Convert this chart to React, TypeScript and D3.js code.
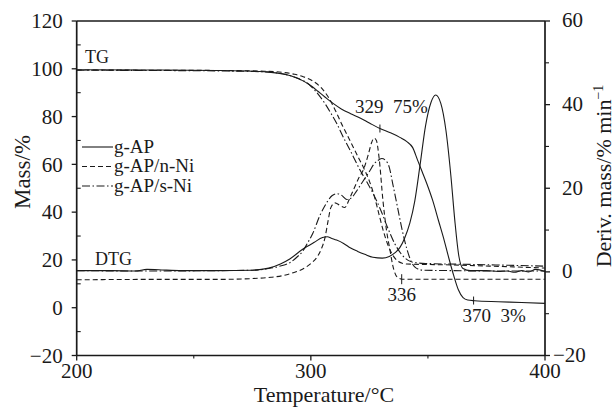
import React from 'react';
import * as d3 from 'd3';

// TG curves (mass %, left axis)
const tgApT = [200, 230, 260, 275, 283, 288, 292, 295, 298, 300.5, 303, 306, 309.5, 313, 317, 321, 325, 329.5, 334, 338, 341, 343.5, 345.5, 347.5, 349.5, 352, 354.5, 357, 359, 361, 363, 365, 367, 370, 380, 390, 400];
const tgApV = [99.6, 99.5, 99.3, 99, 98.5, 97.8, 96.9, 95.7, 94.2, 92.6, 90.6, 88.2, 85.5, 83.2, 81.2, 79.4, 77.3, 75, 73.2, 71.3, 69.5, 67, 62, 57, 52, 45, 36.5, 28, 20.5, 13.5, 7.5, 4.2, 3.2, 2.9, 2.5, 2.2, 1.8];

const tgNT = [200, 230, 260, 280, 288, 293, 297, 301, 304.5, 307, 309, 311, 313, 315.5, 318, 320.5, 323, 325, 327, 329, 331, 333, 335, 337, 339, 341, 360, 380, 400];
const tgNV = [99.5, 99.4, 99.3, 99, 98.5, 97.7, 96.6, 94.8, 92, 88.8, 85.5, 81.5, 77.2, 72.3, 67.4, 62.5, 57.6, 53, 47, 39.5, 32, 26, 22, 19.6, 18.6, 18.3, 17.9, 17.3, 16.6];

const tgST = [200, 230, 260, 278, 286, 291, 295, 299.5, 303, 306, 308.5, 311, 313.8, 316.7, 319, 321, 324, 327, 330, 333, 336, 339, 342, 345, 350, 370, 400];
const tgSV = [99.4, 99.3, 99.1, 98.8, 98.2, 97.2, 95.8, 93.2, 89.5, 85.5, 81.5, 77.2, 71.5, 66, 61.5, 57.6, 52.5, 47, 40.5, 33, 26.5, 22, 19.6, 18.8, 18.5, 18.1, 17.4];

// DTG curves (%/min, right axis)
const dtgApT = [200, 215, 225, 230, 235, 245, 260, 275, 282, 287, 291, 296.5, 301.5, 305, 307, 309, 311, 314, 317, 320, 323, 326.5, 330.5, 333.5, 336, 338, 340, 342.3, 344.4, 346.6, 349, 351.3, 353.3, 355.5, 357.7, 359.8, 361.5, 363.2, 365, 368, 375, 380, 384, 387, 390, 393, 396, 400];
const dtgApV = [0.3, 0.3, 0.2, 0.6, 0.5, 0.3, 0.3, 0.4, 0.9, 1.9, 3.1, 5.4, 7.1, 8.2, 8.4, 8.0, 7.6, 6.8, 5.7, 4.9, 4.2, 3.5, 3.3, 3.7, 4.6, 5.8, 8, 11.7, 17, 25.4, 35, 40.5, 42.3, 40.3, 33.8, 23, 12.2, 3.8, 0.8, 0.3, 0.3, 0.1, 0.2, -0.1, 0.3, 0.0, 0.6, 0.1];

const dtgNT = [200, 230, 260, 275, 283, 288, 292.5, 296.6, 300, 302.6, 304.5, 306, 307.3, 308.5, 310.3, 312.4, 314.5, 316.5, 318.5, 320.5, 322.5, 324.5, 326, 327, 328, 329.2, 330.8, 332.3, 333.8, 335, 336.8, 339, 360, 380, 400];
const dtgNV = [-1.9, -1.8, -1.8, -1.6, -1.3, -0.9, -0.2, 0.7, 2, 3.5, 5.5, 8.1, 12, 15.3, 16.5, 15.9, 15.4, 17.5, 20, 22.5, 24.5, 28, 31, 32, 31.4, 27, 17, 10, 5.2, 1.5, -1.2, -1.75, -1.75, -1.75, -1.75];

const dtgST = [200, 230, 260, 275, 282, 287, 291, 294, 296.6, 298.5, 300.9, 303.8, 306, 307.3, 309, 311.1, 313.2, 315.4, 317.5, 319.5, 321, 323, 325.2, 327, 328.5, 330.3, 332, 333.5, 335, 337, 339, 341, 343, 345, 348, 360, 380, 400];
const dtgSV = [0.3, 0.2, 0.3, 0.4, 0.8, 1.4, 2.2, 3.5, 5, 6.8, 9.3, 13.4, 15.8, 17, 18.2, 18.7, 18.3, 17.3, 17.8, 19.3, 20.6, 22.3, 24.2, 25.8, 26.6, 27.1, 26.6, 25, 21, 15.5, 10, 5.5, 2.3, 0.9, 0.4, 0.3, 0.2, 0.2];

const legendNames = ['g-AP', 'g-AP/n-Ni', 'g-AP/s-Ni'];
const xMajor = [200, 300, 400];
const xMinor = [250, 350];

// marked points: temperature, mass
const markT = [329.5, 369.5];
const markV = [75, 3];
const markLabels = ['329  75%', '370  3%'];
// DTG end point of g-AP/n-Ni
const endT = 338.8;
const endV = -1.75;
const endLabel = '336';

const dashes = [null, '5,3', '8,2.5,1.5,2.5'];
const font = '"Liberation Serif", "Times New Roman", serif';
const ink = '#1a1a1a';

export default function App() {
  const x = d3.scaleLinear().domain([200, 400]).range([76.7, 545]);
  const yL = d3.scaleLinear().domain([-20, 120]).range([355.5, 21]);
  const yR = d3.scaleLinear().domain([-20, 60]).range([355.5, 21]);

  const lineL = d3.line<number[]>().x(d => x(d[0])).y(d => yL(d[1])).curve(d3.curveMonotoneX);
  const lineR = d3.line<number[]>().x(d => x(d[0])).y(d => yR(d[1])).curve(d3.curveMonotoneX);
  const zip = (a: number[], b: number[]) => a.map((t, i) => [t, b[i]]);

  const tg = [zip(tgApT, tgApV), zip(tgNT, tgNV), zip(tgST, tgSV)];
  const dtg = [zip(dtgApT, dtgApV), zip(dtgNT, dtgNV), zip(dtgST, dtgSV)];

  const fmt = (v: number) => d3.format('d')(v).replace('-', '\u2212');
  const x0 = x.range()[0], x1 = x.range()[1];
  const yTop = yL.range()[1], yBot = yL.range()[0];
  const minorL = d3.range(-10, 120, 20);
  const minorR = d3.range(-10, 60, 20);

  return (
    <svg width={615} height={408} style={{ position: 'absolute', left: 0, top: 0, background: '#fff' }} fontFamily={font}>
      {/* frame */}
      <g stroke={ink} strokeWidth={1.7} fill="none">
        <line x1={x0} x2={x1} y1={yTop} y2={yTop} />
        <line x1={x0} x2={x1} y1={yBot} y2={yBot} />
        <line x1={x0} x2={x0} y1={yTop} y2={yBot} />
        <line x1={x1} x2={x1} y1={yTop} y2={yBot} />
      </g>

      {/* left axis */}
      {yL.ticks(7).map(v => (
        <g key={'l' + v}>
          <line x1={x0 - 5} x2={x0} y1={yL(v)} y2={yL(v)} stroke={ink} strokeWidth={1.3} />
          <text x={x0 - 14} y={yL(v)} dy="0.35em" textAnchor="end" fontSize={21} fill={ink}>{fmt(v)}</text>
        </g>
      ))}
      {minorL.map(v => (
        <line key={'lm' + v} x1={x0} x2={x0 + 4} y1={yL(v)} y2={yL(v)} stroke={ink} strokeWidth={1.1} />
      ))}

      {/* right axis */}
      {yR.ticks(4).map(v => (
        <g key={'r' + v}>
          <line x1={x1} x2={x1 + 5} y1={yR(v)} y2={yR(v)} stroke={ink} strokeWidth={1.3} />
          <text x={v < 0 ? x1 + 8 : x1 + 17} y={yR(v) - 1} dy="0.35em" textAnchor="start" fontSize={21} fill={ink}>{fmt(v)}</text>
        </g>
      ))}
      {minorR.map(v => (
        <line key={'rm' + v} x1={x1} x2={x1 + 4} y1={yR(v)} y2={yR(v)} stroke={ink} strokeWidth={1.1} />
      ))}

      {/* bottom axis */}
      {xMajor.map(v => (
        <g key={'b' + v}>
          <line x1={x(v)} x2={x(v)} y1={yBot} y2={yBot + 5} stroke={ink} strokeWidth={1.3} />
          <text x={x(v)} y={yBot + 22} textAnchor="middle" fontSize={21} fill={ink}>{fmt(v)}</text>
        </g>
      ))}
      {xMinor.map(v => (
        <line key={'bm' + v} x1={x(v)} x2={x(v)} y1={yBot} y2={yBot + 3} stroke={ink} strokeWidth={1.1} />
      ))}

      {/* axis titles */}
      <text x={324} y={402} textAnchor="middle" fontSize={22} fill={ink}>Temperature/°C</text>
      <text transform="translate(30,172) rotate(-90)" textAnchor="middle" fontSize={23} fill={ink}>Mass/%</text>
      <text transform="translate(611,176) rotate(-90)" textAnchor="middle" fontSize={22} fill={ink}>
        Deriv. mass/% min<tspan dy="-8" fontSize={14}>−1</tspan>
      </text>

      {/* curves */}
      <g fill="none" stroke={ink} strokeWidth={1.1}>
        {tg.map((s, i) => (
          <path key={'tg' + i} d={lineL(s) || ''} strokeDasharray={dashes[i] || undefined} />
        ))}
        {dtg.map((s, i) => (
          <path key={'dtg' + i} d={lineR(s) || ''} strokeDasharray={dashes[i] || undefined} />
        ))}
      </g>

      {/* annotations */}
      <text x={85} y={63} fontSize={18} fill={ink}>TG</text>
      <text x={95} y={265} fontSize={18} fill={ink}>DTG</text>
      {markT.map((t, i) => (
        <g key={'m' + i}>
          <line x1={x(t)} x2={x(t)} y1={yL(markV[i]) - 4} y2={yL(markV[i]) + 4} stroke={ink} strokeWidth={1} />
          <text x={x(t) + (i === 0 ? -25 : -11)} y={yL(markV[i]) + (i === 0 ? -16 : 21)} fontSize={19} fill={ink} style={{ whiteSpace: 'pre' }}>{markLabels[i]}</text>
        </g>
      ))}
      <line x1={x(endT)} x2={x(endT)} y1={yR(endV) - 5} y2={yR(endV) + 5} stroke={ink} strokeWidth={1} />
      <text x={x(endT)} y={yR(endV) + 22} textAnchor="middle" fontSize={19} fill={ink}>{endLabel}</text>

      {/* legend */}
      {legendNames.map((name, i) => (
        <g key={'lg' + i} transform={`translate(82,${147 + i * 19.5})`}>
          <line x1={0} x2={31} y1={0} y2={0} stroke={ink} strokeWidth={1.1} strokeDasharray={dashes[i] || undefined} />
          <text x={32} y={0} dy="0.3em" fontSize={19} fill={ink}>{name}</text>
        </g>
      ))}
    </svg>
  );
}
